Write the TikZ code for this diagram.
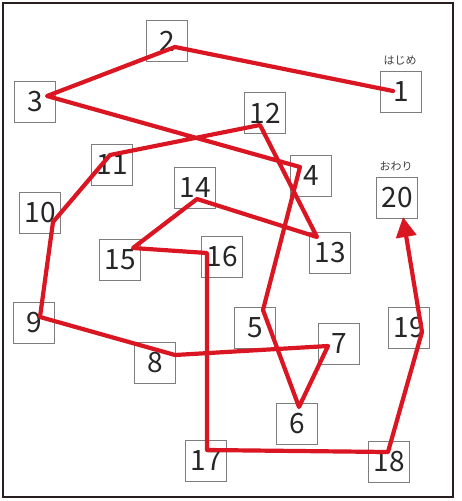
\documentclass[tikz,border=0pt]{standalone}
\usepackage{fontspec}
\setmainfont{Noto Sans CJK JP}
\usetikzlibrary{arrows.meta}
\definecolor{pathred}{RGB}{218,22,34}
\definecolor{boxgray}{RGB}{125,125,125}
\definecolor{framec}{RGB}{40,30,30}
\begin{document}
\begin{tikzpicture}[x=1pt,y=-1pt,
  numbox/.style={draw=boxgray,line width=1.2pt,minimum width=41pt,minimum height=41pt,inner sep=0pt,font=\fontsize{28}{28}\selectfont,text=black!85},
  tag/.style={font=\fontsize{11}{11}\selectfont,text=black!75,inner sep=0pt},
  route/.style={draw=pathred,line width=4.2pt,line join=round,line cap=round}]
\useasboundingbox (0,0) rectangle (462,501);
\draw[framec,line width=2pt] (3,3) rectangle (453,497);
% boxes
\node[numbox] (n1) at (401,92) {1};
\node[numbox] (n2) at (167,41) {2};
\node[numbox] (n3) at (35,102) {3};
\node[numbox] (n4) at (311,176) {4};
\node[numbox] (n5) at (255,328) {5};
\node[numbox] (n6) at (297,424) {6};
\node[numbox] (n7) at (339,344) {7};
\node[numbox] (n8) at (155,363) {8};
\node[numbox] (n9) at (34,323) {9};
\node[numbox] (n10) at (40,213) {10};
\node[numbox] (n11) at (112,165) {11};
\node[numbox] (n12) at (265,113) {12};
\node[numbox] (n13) at (330,253) {13};
\node[numbox] (n14) at (195,188) {14};
\node[numbox] (n15) at (120,260) {15};
\node[numbox] (n16) at (222,257) {16};
\node[numbox] (n17) at (206,461) {17};
\node[numbox] (n18) at (389,462) {18};
\node[numbox] (n19) at (409,328) {19};
\node[numbox] (n20) at (397,198) {20};
\node[tag] (start) at (400,61) {はじめ};
\node[tag] (goal) at (396,166) {おわり};
% route points
\coordinate (p1) at (393,91);
\coordinate (p2) at (175,47);
\coordinate (p3) at (47,96);
\coordinate (p4) at (300,167);
\coordinate (p5) at (263,310);
\coordinate (p6) at (299,407);
\coordinate (p7) at (328,346);
\coordinate (p8) at (175,355);
\coordinate (p9) at (40,317);
\coordinate (p10) at (53,222);
\coordinate (p11) at (110,155);
\coordinate (p12) at (260,125);
\coordinate (p13) at (317,237);
\coordinate (p14) at (197,199);
\coordinate (p15) at (133,248);
\coordinate (p16) at (207,253);
\coordinate (p17) at (207,450);
\coordinate (p18) at (388,452);
\coordinate (p19) at (422,332);
\coordinate (p20) at (403,217);
\draw[route] (p1) -- (p2) -- (p3) -- (p4) -- (p5) -- (p6) -- (p7) -- (p8) -- (p9) -- (p10)
  -- (p11) -- (p12) -- (p13) -- (p14) -- (p15) -- (p16) -- (p17) -- (p18) -- (p19);
\draw[route,line cap=butt,-{Triangle[length=20pt,width=20pt]}] (p19) -- (p20);
\end{tikzpicture}
\end{document}
